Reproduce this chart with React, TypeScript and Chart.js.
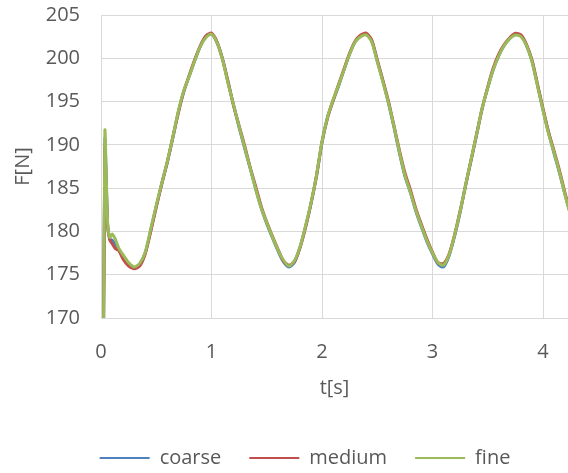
import React, { useEffect, useRef } from "react";
import { Chart, registerables } from "chart.js";

Chart.register(...registerables);

// time axis [s]
const T = [
  0, 0.035, 0.06, 0.08, 0.1, 0.13, 0.16, 0.2, 0.25,
  0.3, 0.35, 0.4, 0.45, 0.5, 0.55, 0.6, 0.65, 0.7, 0.75, 0.8, 0.85, 0.9, 0.95, 1.0,
  1.05, 1.1, 1.15, 1.2, 1.25, 1.3, 1.35, 1.4, 1.45, 1.5, 1.55, 1.6, 1.65, 1.7,
  1.75, 1.8, 1.85, 1.9, 1.95, 2.0, 2.05, 2.1, 2.15, 2.2, 2.25, 2.3, 2.35, 2.4,
  2.45, 2.5, 2.55, 2.6, 2.65, 2.7, 2.75, 2.8, 2.85, 2.9, 2.95, 3.0, 3.05, 3.1,
  3.15, 3.2, 3.25, 3.3, 3.35, 3.4, 3.45, 3.5, 3.55, 3.6, 3.65, 3.7, 3.75, 3.8,
  3.85, 3.9, 3.95, 4.0, 4.05, 4.1, 4.15, 4.2, 4.25,
];

const COARSE = [
  120, 190.5, 180.8, 179.1, 179.0, 178.5, 177.9, 177.0, 176.2,
  175.8, 176.2, 177.5, 180.1, 182.9, 185.5, 188.0, 190.8, 193.8, 196.2, 198.0, 199.8, 201.4, 202.5, 202.8,
  201.8, 199.9, 197.2, 194.6, 192.0, 189.6, 187.3, 184.9, 182.7, 180.9, 179.3, 177.8, 176.5, 175.9,
  176.4, 178.1, 180.5, 183.2, 186.4, 190.3, 193.2, 195.1, 196.8, 198.7, 200.5, 201.9, 202.6, 202.8,
  202.0, 199.7, 197.4, 194.9, 192.1, 189.1, 186.4, 184.5, 182.3, 180.5, 178.8, 177.4, 176.2, 175.9,
  177.2, 179.5, 182.2, 185.4, 188.3, 191.2, 194.3, 196.6, 198.7, 200.3, 201.5, 202.3, 202.8, 202.6,
  201.5, 199.7, 196.9, 194.0, 191.4, 189.0, 186.7, 184.2, 181.9,
];

const MEDIUM = [
  120, 189.5, 180.6, 179.0, 178.6, 178.0, 177.8, 176.8, 176.0,
  175.7, 176.0, 177.4, 180.0, 182.8, 185.5, 188.0, 190.9, 193.7, 196.2, 198.1, 199.9, 201.5, 202.6, 202.9,
  201.9, 199.9, 197.3, 194.5, 192.2, 189.9, 187.4, 185.2, 182.9, 181.1, 179.5, 178.0, 176.6, 176.1,
  176.5, 178.1, 180.4, 183.2, 186.4, 190.3, 193.1, 195.1, 197.0, 198.8, 200.6, 202.0, 202.7, 202.9,
  202.1, 199.8, 197.5, 195.1, 192.3, 189.4, 186.8, 184.8, 182.6, 180.8, 179.1, 177.6, 176.4, 176.3,
  177.4, 179.6, 182.4, 185.3, 188.3, 191.3, 194.2, 196.7, 198.9, 200.5, 201.6, 202.4, 202.9, 202.7,
  201.6, 199.8, 197.0, 194.2, 191.5, 189.3, 187.0, 184.4, 182.0,
];

const FINE = [
  120, 191.5, 181.0, 179.3, 179.7, 179.1, 178.1, 177.3, 176.4,
  175.9, 176.3, 177.6, 180.3, 183.0, 185.6, 188.1, 190.9, 193.9, 196.3, 198.0, 199.8, 201.4, 202.4, 202.8,
  201.8, 199.8, 197.1, 194.6, 192.1, 189.7, 187.3, 184.9, 182.7, 181.0, 179.4, 177.9, 176.7, 176.0,
  176.6, 178.2, 180.6, 183.3, 186.5, 190.4, 193.2, 195.2, 196.9, 198.7, 200.5, 201.9, 202.5, 202.7,
  201.9, 199.6, 197.3, 194.9, 192.2, 189.2, 186.5, 184.5, 182.4, 180.6, 178.9, 177.5, 176.4, 176.1,
  177.3, 179.6, 182.3, 185.4, 188.4, 191.3, 194.3, 196.6, 198.7, 200.3, 201.5, 202.3, 202.7, 202.5,
  201.5, 199.6, 196.8, 194.0, 191.3, 189.1, 186.8, 184.2, 181.8,
];

const SERIES_NAMES = ["coarse", "medium", "fine"];
const SERIES_COLORS = ["#4F81BD", "#C0504D", "#9BBB59"];

const X_MIN = 0;
const X_MAX = 4.226;
const Y_MIN = 170;
const Y_MAX = 205;

const TEXT = "#595959";
const GRID = "#D9D9D9";
const FONT = { family: "'Open Sans', sans-serif", size: 20 };

export default function App() {
  const ref = useRef<HTMLCanvasElement>(null);

  useEffect(() => {
    document.body.style.margin = "0";
    const pts = (v: number[]) => T.map((t, i) => ({ x: t, y: v[i] }));
    const values = [COARSE, MEDIUM, FINE];

    const shiftLegend = {
      id: "shiftLegend",
      afterLayout(chart: any) {
        const l = chart.legend;
        if (l) {
          l.left += 21;
          l.right += 21;
          l.top += 5;
          l.bottom += 5;
        }
      },
    };

    const chart = new Chart(ref.current!, {
      type: "line",
      data: {
        datasets: SERIES_NAMES.map((name, i) => ({
          label: name,
          data: pts(values[i]),
          borderColor: SERIES_COLORS[i],
          backgroundColor: SERIES_COLORS[i],
          borderWidth: 3,
          pointRadius: 0,
          tension: 0.25,
          order: 2 - i,
        })),
      },
      options: {
        responsive: false,
        animation: false,
        layout: { padding: { top: 15, right: 0, left: 0, bottom: 0 } },
        scales: {
          x: {
            type: "linear",
            min: X_MIN,
            max: X_MAX,
            ticks: {
              stepSize: 1,
              includeBounds: false,
              padding: 22,
              color: TEXT,
              font: FONT,
              maxRotation: 0,
            },
            grid: { color: GRID, drawTicks: false },
            border: { color: GRID },
            title: {
              display: true,
              text: "t[s]",
              color: TEXT,
              font: FONT,
              padding: { top: 0, bottom: 15 },
            },
            afterFit: (s: any) => {
              s.height = 97;
              s.paddingLeft = 0;
              s.paddingRight = 0;
            },
          },
          y: {
            type: "linear",
            min: Y_MIN,
            max: Y_MAX,
            ticks: { stepSize: 5, padding: 21, color: TEXT, font: FONT },
            grid: { color: GRID, drawTicks: false },
            border: { color: GRID },
            title: {
              display: true,
              text: "F[N]",
              color: TEXT,
              font: FONT,
              padding: { top: 11, bottom: 0 },
            },
            afterFit: (s: any) => {
              s.width = 101;
              s.paddingTop = 0;
              s.paddingBottom = 0;
            },
          },
        },
        plugins: {
          tooltip: { enabled: false },
          legend: {
            position: "bottom",
            labels: {
              color: TEXT,
              font: FONT,
              boxWidth: 50,
              boxHeight: 2,
              padding: 28,
              sort: (a: any, b: any) => a.datasetIndex - b.datasetIndex,
              generateLabels: (c: any) =>
                (Chart.defaults.plugins.legend.labels as any)
                  .generateLabels(c)
                  .map((l: any) => ({ ...l, lineWidth: 0 })),
            },
          },
        },
      },
      plugins: [shiftLegend],
    });
    return () => chart.destroy();
  }, []);

  return (
    <canvas
      ref={ref}
      width={568}
      height={473}
      style={{ display: "block", width: 568, height: 473 }}
    />
  );
}
